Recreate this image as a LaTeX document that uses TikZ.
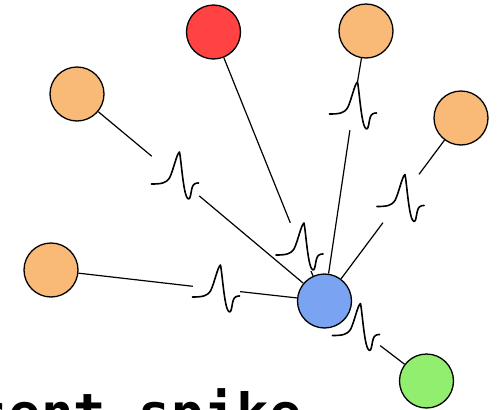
\documentclass[tikz,border=0pt]{standalone}
\usepackage{fontspec}
\newfontfamily\labelfont{DejaVu Sans Mono}
\usetikzlibrary{backgrounds}

\definecolor{cellred}{RGB}{255,66,66}
\definecolor{cellorange}{RGB}{249,186,119}
\definecolor{cellblue}{RGB}{122,163,242}
\definecolor{cellgreen}{RGB}{146,238,111}

\tikzset{
  neuron/.style={circle, draw=black, line width=1.3pt, minimum size=54pt, inner sep=0pt},
  spikebox/.style={rectangle, minimum width=47pt, minimum height=48pt, inner sep=0pt},
  synapse/.style={line width=1.2pt, black},
  spikeline/.style={line width=1.6pt, black, line cap=round, line join=round},
  spikewave/.pic={
    \draw[spikeline] (-24,8) .. controls (-14,8) and (-9,7) .. (-6,2)
      .. controls (-2,-6) and (1,-22) .. (4,-24)
      .. controls (6,-14) and (8,22) .. (13,23)
      .. controls (16,23) and (15,10) .. (19,8)
      .. controls (20,7) and (22,7) .. (23,7);
  }
}

\begin{document}
\begin{tikzpicture}[x=1pt, y=-1pt]
  \useasboundingbox (0,0) rectangle (499,410);

  % neurons
  \node[neuron, fill=cellblue]   (post)  at (324.5,301) {};
  \node[neuron, fill=cellorange] (pre1)  at (77,94)     {};
  \node[neuron, fill=cellorange] (pre2)  at (51,270)    {};
  \node[neuron, fill=cellred]    (pre3)  at (213.5,32)  {};
  \node[neuron, fill=cellorange] (pre4)  at (366,31)    {};
  \node[neuron, fill=cellorange] (pre5)  at (461,118)   {};
  \node[neuron, fill=cellgreen]  (out)   at (426.5,381) {};

  % spike markers on each synapse
  \node[spikebox] (s1) at (175.5,176) {};
  \node[spikebox] (s2) at (216.5,289) {};
  \node[spikebox] (s3) at (300,247)   {};
  \node[spikebox] (s4) at (353.5,106) {};
  \node[spikebox] (s5) at (401,198.5) {};
  \node[spikebox] (s6) at (356.5,327.5) {};

  \foreach \s in {s1,s2,s3,s4,s5,s6} \pic at (\s) {spikewave};

  % synapses
  \begin{pgfonlayer}{background}
    \draw[synapse] (pre1) -- (s1) -- (post);
    \draw[synapse] (pre2) -- (s2) -- (post);
    \draw[synapse] (pre3) -- (s3) -- (post);
    \draw[synapse] (pre4) -- (s4) -- (post);
    \draw[synapse] (pre5) -- (s5) -- (post);
    \draw[synapse] (post) -- (s6) -- (out);
  \end{pgfonlayer}

  % caption
  \node[anchor=base west, inner sep=0pt, font=\labelfont\bfseries\fontsize{54}{60}\selectfont]
    (caption) at (-23.75,432) {sent spike};
\end{tikzpicture}
\end{document}
